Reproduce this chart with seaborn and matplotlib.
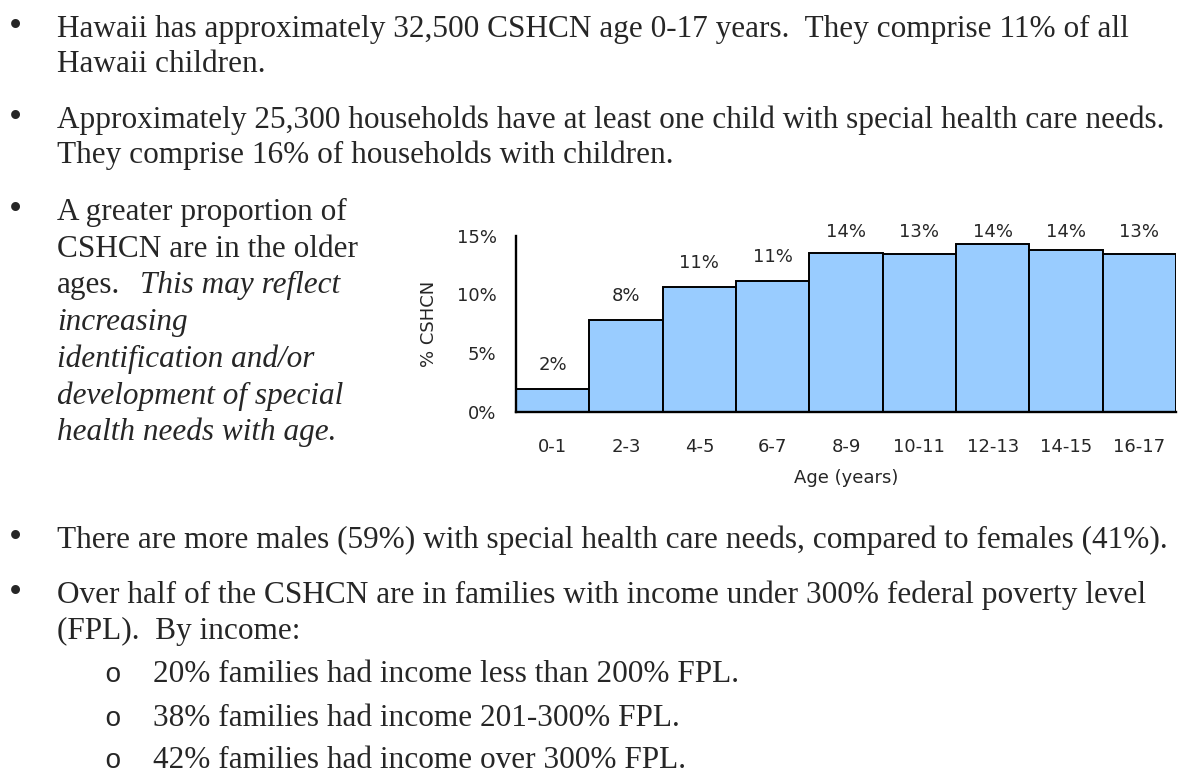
import matplotlib
matplotlib.use("Agg")
import matplotlib.pyplot as plt
import seaborn as sns
import pandas as pd
from matplotlib.ticker import FixedLocator

# Share of CSHCN by age group (percent)
age_groups = ["0-1", "2-3", "4-5", "6-7", "8-9", "10-11", "12-13", "14-15", "16-17"]
pct_cshcn = [1.9, 7.8, 10.6, 11.1, 13.5, 13.4, 14.3, 13.8, 13.4]
y_ticks = [0, 5, 10, 15]

# Page text
bullets_top = [
    ["Hawaii has approximately 32,500 CSHCN age 0-17 years.  They comprise 11% of all",
     "Hawaii children."],
    ["Approximately 25,300 households have at least one child with special health care needs.",
     "They comprise 16% of households with children."],
]
side_first = ["A greater proportion of", "CSHCN are in the older", "ages."]
side_italic_inline = "This may reflect"
side_italic = ["increasing", "identification and/or", "development of special",
               "health needs with age."]
bullets_bottom = [
    ["There are more males (59%) with special health care needs, compared to females (41%)."],
    ["Over half of the CSHCN are in families with income under 300% federal poverty level",
     "(FPL).  By income:"],
]
sub_items = ["20% families had income less than 200% FPL.",
             "38% families had income 201-300% FPL.",
             "42% families had income over 300% FPL."]

sns.set_style("white")
plt.rcParams["font.family"] = ["DejaVu Sans"]

W, H = 1199, 776
fig = plt.figure(figsize=(W / 100, H / 100), dpi=100)
fig.patch.set_facecolor("white")

serif = "Liberation Serif"
body_size = 22.5
line_h = 35.5
text_x = 57


def put(x, y, s, **kw):
    """Place text with its baseline at pixel row y."""
    kw.setdefault("family", serif)
    kw.setdefault("fontsize", body_size)
    kw.setdefault("va", "baseline")
    return fig.text(x / W, 1 - y / H, s, **kw)


def bullet(y):
    put(15, y, "\u2022", fontsize=27, ha="center")


# Top bullets
for base, lines in zip([36.5, 128], bullets_top):
    bullet(base)
    for i, ln in enumerate(lines):
        put(text_x, base + i * line_h, ln)

# Bullet beside the chart
side_base = 220
side_h = 36.7
bullet(side_base)
for i, ln in enumerate(side_first):
    t = put(text_x, side_base + i * side_h, ln)
fig.canvas.draw()
bb = t.get_window_extent(renderer=fig.canvas.get_renderer())
put(bb.x1 + 20, side_base + 2 * side_h, side_italic_inline, style="italic")
for i, ln in enumerate(side_italic):
    put(text_x, side_base + (3 + i) * side_h, ln, style="italic")

# Bottom bullets
for base, lines in zip([548, 603], bullets_bottom):
    bullet(base)
    for i, ln in enumerate(lines):
        put(text_x, base + i * line_h, ln)

for k, ln in enumerate(sub_items):
    base = 682.5 + k * 43
    put(113, base, "o", family="Liberation Mono", fontsize=20, ha="center")
    put(153, base, ln)

# Bar chart
df = pd.DataFrame({"age": age_groups, "pct": pct_cshcn})
ax = fig.add_axes([516 / W, 1 - 411.7 / H, 660 / W, 176 / H])
sns.barplot(data=df, x="age", y="pct", order=age_groups, color="#99CCFF",
            saturation=1, width=1.0, edgecolor="black", linewidth=1.4, ax=ax)
ax.set_xlim(-0.5, len(age_groups) - 0.5)
ax.set_ylim(0, 15)
ax.set_yticks(y_ticks)
ax.set_yticklabels([f"{v}%" for v in y_ticks])
ax.xaxis.set_minor_locator(FixedLocator([i - 0.5 for i in range(len(age_groups) + 1)]))
ax.tick_params(axis="x", which="major", length=0, pad=19, labelsize=13)
ax.tick_params(axis="x", which="minor", length=6, width=1.4, direction="out", color="black")
ax.tick_params(axis="y", length=5, width=1.4, direction="out", color="black",
               pad=9, labelsize=13)
for side in ("top", "right"):
    ax.spines[side].set_visible(False)
for side in ("left", "bottom"):
    ax.spines[side].set_color("black")
    ax.spines[side].set_linewidth(1.7)
ax.set_xlabel("Age (years)", fontsize=13)
ax.set_ylabel("% CSHCN", fontsize=13)
ax.xaxis.set_label_coords(0.5, -0.325)
ax.yaxis.set_label_coords(-0.118, 0.5)
ax.set_facecolor("white")

for i, v in enumerate(pct_cshcn):
    ax.text(i, min(v + 2.1, 15.35), f"{v:.0f}%", ha="center", va="center",
            fontsize=13, clip_on=False)

fig.savefig("out.png", dpi=100, facecolor="white")
